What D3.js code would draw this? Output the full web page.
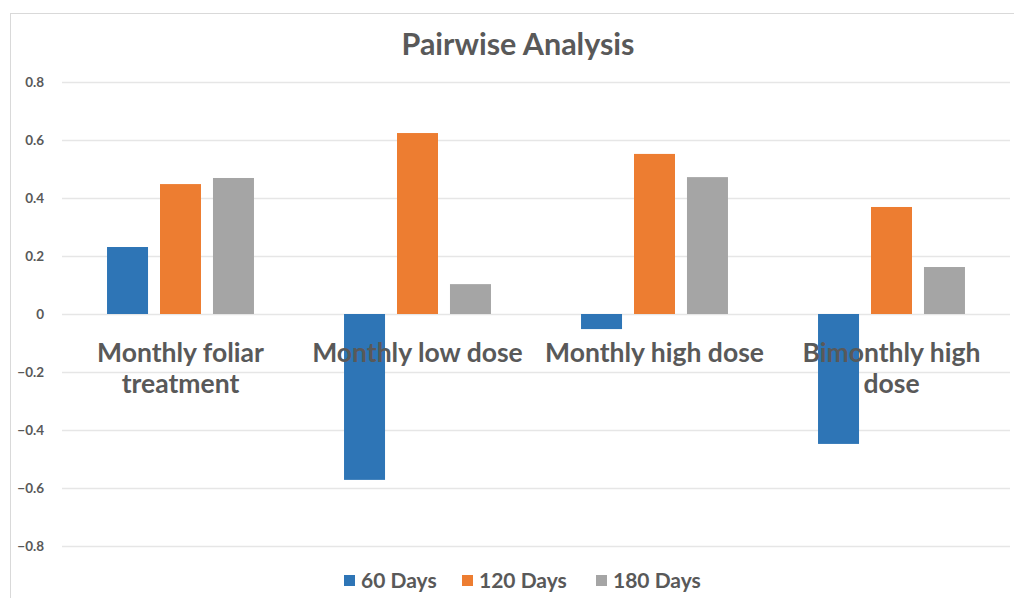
<!DOCTYPE html>
<html>
<head>
<meta charset="utf-8">
<script src="https://cdn.jsdelivr.net/npm/d3@7"></script>
<style>
  html, body { margin: 0; padding: 0; background: #fff; }
  svg { display: block; font-family: Lato, 'Open Sans', sans-serif; }
</style>
</head>
<body>
<svg id="chart" width="1014" height="598"></svg>
<script>
// data
var categories = ['Monthly foliar treatment', 'Monthly low dose', 'Monthly high dose', 'Bimonthly high dose']
var categoryLines = [['Monthly foliar', 'treatment'], ['Monthly low dose'], ['Monthly high dose'], ['Bimonthly high', 'dose']]
var seriesNames = ['60 Days', '120 Days', '180 Days']
var days60 = [0.231, -0.572, -0.052, -0.448]
var days120 = [0.448, 0.624, 0.552, 0.369]
var days180 = [0.469, 0.103, 0.472, 0.162]
var yTicks = [-0.8, -0.6, -0.4, -0.2, 0, 0.2, 0.4, 0.6, 0.8]

// config
var colors = ['#2e75b6', '#ed7d31', '#a5a5a5']
var textColor = '#595959'
var gridColor = '#e6e6e6'
var width = 1014, height = 598
var plot = { left: 62, right: 1010, top: 82, bottom: 546 }

var svg = d3.select('#chart')

// outer frame
svg.append('rect')
  .attr('x', 10.5).attr('y', 13.5)
  .attr('width', width).attr('height', height)
  .attr('fill', 'none').attr('stroke', '#d9d9d9')

var y = d3.scaleLinear().domain([-0.8, 0.8]).range([plot.bottom, plot.top])
var x0 = d3.scaleBand().domain(categories).range([plot.left, plot.right])
var x1 = d3.scaleBand().domain(seriesNames).range([0, x0.bandwidth()]).paddingInner(0.226).paddingOuter(0.85)

// grid lines
svg.append('g').selectAll('line')
  .data(yTicks)
  .join('line')
  .attr('x1', plot.left).attr('x2', plot.right)
  .attr('y1', function (d) { return Math.round(y(d)) + 0.5 })
  .attr('y2', function (d) { return Math.round(y(d)) + 0.5 })
  .attr('stroke', gridColor).attr('stroke-width', 1.5)

// y tick labels
svg.append('g').selectAll('text')
  .data(yTicks)
  .join('text')
  .attr('x', 44).attr('y', function (d) { return y(d) + 5 })
  .attr('text-anchor', 'end')
  .attr('font-size', 13.5).attr('font-weight', 'bold')
  .attr('fill', textColor)
  .text(function (d) { return d === 0 ? '0' : d3.format('.1f')(d) })

// bars
var series = [days60, days120, days180]
var rows = categories.map(function (c, i) {
  return seriesNames.map(function (s, j) { return { cat: c, key: s, value: series[j][i], idx: j } })
})

svg.append('g').selectAll('g')
  .data(rows)
  .join('g')
  .attr('transform', function (d) { return 'translate(' + x0(d[0].cat) + ',0)' })
  .selectAll('rect')
  .data(function (d) { return d })
  .join('rect')
  .attr('x', function (d) { return x1(d.key) })
  .attr('width', x1.bandwidth())
  .attr('y', function (d) { return y(Math.max(0, d.value)) })
  .attr('height', function (d) { return Math.abs(y(d.value) - y(0)) })
  .attr('fill', function (d) { return colors[d.idx] })

// category labels (drawn over bars, like the source)
var labels = svg.append('g').selectAll('text')
  .data(categories)
  .join('text')
  .attr('x', function (d) { return x0(d) + x0.bandwidth() / 2 })
  .attr('y', 362)
  .attr('text-anchor', 'middle')
  .attr('font-size', 26.5).attr('font-weight', 'bold')
  .attr('fill', textColor)

labels.selectAll('tspan')
  .data(function (d, i) { return categoryLines[i] })
  .join('tspan')
  .attr('x', function () { var p = this.parentNode.__data__; return x0(p) + x0.bandwidth() / 2 })
  .attr('dy', function (d, i) { return i === 0 ? 0 : 31 })
  .text(function (d) { return d })

// title
svg.append('text')
  .attr('x', 518).attr('y', 55)
  .attr('text-anchor', 'middle')
  .attr('font-size', 30.5).attr('font-weight', 'bold')
  .attr('fill', textColor)
  .text('Pairwise Analysis')

// legend
var legendX = [344, 462, 596]
var legend = svg.append('g').selectAll('g')
  .data(seriesNames)
  .join('g')
  .attr('transform', function (d, i) { return 'translate(' + legendX[i] + ',575)' })
legend.append('rect')
  .attr('width', 11).attr('height', 11)
  .attr('fill', function (d, i) { return colors[i] })
legend.append('text')
  .attr('x', 17).attr('y', 12.5)
  .attr('font-size', 21).attr('font-weight', 'bold')
  .attr('fill', textColor)
  .text(function (d) { return d })
</script>
</body>
</html>
